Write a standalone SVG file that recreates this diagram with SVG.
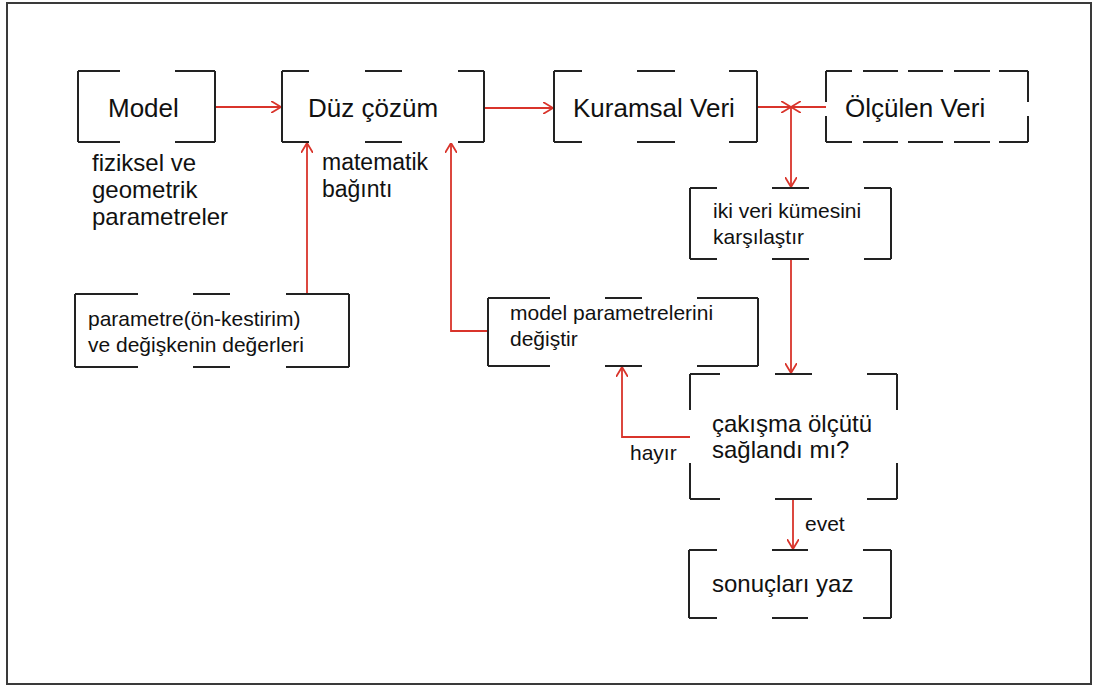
<svg xmlns="http://www.w3.org/2000/svg" width="1093" height="686" viewBox="0 0 1093 686">
<style>
.box{fill:none;stroke:#222;stroke-width:2}
.con{fill:none;stroke:#d9342b;stroke-width:1.8}
text{font-family:"Liberation Sans",Arial,sans-serif;fill:#111}
.t26{font-size:26px}
.t23{font-size:23px}
.t24{font-size:24px}
.t21{font-size:21px}
</style>
<defs>
<marker id="ah" viewBox="0 0 10 12" refX="10" refY="6" markerWidth="10" markerHeight="12" markerUnits="userSpaceOnUse" orient="auto">
<path d="M0,0 L10,6 L0,12" fill="none" stroke="#d9342b" stroke-width="1.8"/>
</marker>
</defs>
<rect x="7" y="3" width="1084" height="681" fill="#fff" stroke="#3a3a3a" stroke-width="2"/>

<g id="connectors">
<path class="con" d="M215,107 H281" marker-end="url(#ah)"/>
<path class="con" d="M484,108 H553" marker-end="url(#ah)"/>
<path class="con" d="M757,107 H791" marker-end="url(#ah)"/>
<path class="con" d="M826,107 H791" marker-end="url(#ah)"/>
<path class="con" d="M791,107 V187" marker-end="url(#ah)"/>
<path class="con" d="M791,259 V373" marker-end="url(#ah)"/>
<path class="con" d="M793,499 V549" marker-end="url(#ah)"/>
<path class="con" d="M690,437 H622 V367" marker-end="url(#ah)"/>
<path class="con" d="M488,331 H451 V143" marker-end="url(#ah)"/>
<path class="con" d="M307,294 V143" marker-end="url(#ah)"/>
<text class="t21" x="630" y="460">hayır</text>
<text class="t21" x="805" y="531">evet</text>
</g>

<g id="model">
<path class="box" d="M78,71 V142 M215,71 V142 M78,71 H120 M175,71 H215 M78,142 H120 M175,142 H215"/>
<text class="t26" x="108" y="117">Model</text>
<text class="t24" x="92" y="171">fiziksel ve</text>
<text class="t24" x="92" y="198">geometrik</text>
<text class="t24" x="92" y="225">parametreler</text>
</g>

<g id="duz-cozum">
<path class="box" d="M282,71 V142 M484,71 V142 M282,71 H309 M365,71 H402 M458,71 H484 M282,142 H309 M365,142 H402 M458,142 H484"/>
<text class="t26" x="308" y="117">Düz çözüm</text>
<text class="t23" x="322" y="170">matematik</text>
<text class="t23" x="322" y="197">bağıntı</text>
</g>

<g id="kuramsal-veri">
<path class="box" d="M554,71 V142 M757,71 V142 M554,71 H582 M637,71 H675 M729,71 H757 M554,142 H582 M637,142 H675 M729,142 H757"/>
<text class="t26" x="573" y="117">Kuramsal Veri</text>
</g>

<g id="olculen-veri">
<path class="box" d="M826,71 V102 M826,116 V142 M1028,71 V102 M1028,116 V142 M826,71 H852 M863,71 H898 M908,71 H943 M954,71 H990 M999,71 H1028 M826,142 H852 M863,142 H898 M908,142 H943 M954,142 H990 M999,142 H1028"/>
<text class="t26" x="845" y="117">Ölçülen Veri</text>
</g>

<g id="iki-veri">
<path class="box" d="M690,188 V259 M891,188 V259 M690,188 H717 M772,188 H809 M864,188 H891 M690,259 H717 M772,259 H809 M864,259 H891"/>
<text class="t21" x="713" y="218">iki veri kümesini</text>
<text class="t21" x="713" y="244">karşılaştır</text>
</g>

<g id="parametre">
<path class="box" d="M75,294 V367 M349,294 V367 M75,294 H138 M193,294 H230 M286,294 H349 M75,367 H138 M193,367 H230 M286,367 H349"/>
<text class="t21" x="88" y="326">parametre(ön-kestirim)</text>
<text class="t21" x="88" y="352">ve değişkenin değerleri</text>
</g>

<g id="model-parametrelerini">
<path class="box" d="M488,298 V366 M758,298 V366 M488,298 H550 M605,298 H642 M697,298 H758 M488,366 H550 M605,366 H642 M697,366 H758"/>
<text class="t21" x="510" y="320">model parametrelerini</text>
<text class="t21" x="510" y="346">değiştir</text>
</g>

<g id="cakisma">
<path class="box" d="M690,374 V410 M690,463 V499 M897,374 V410 M897,463 V499 M690,374 H720 M775,374 H812 M867,374 H897 M690,499 H720 M775,499 H812 M867,499 H897"/>
<text class="t24" x="712" y="432">çakışma ölçütü</text>
<text class="t24" x="712" y="458">sağlandı mı?</text>
</g>

<g id="sonuclari-yaz">
<path class="box" d="M689,550 V618 M891,550 V618 M689,550 H717 M772,550 H808 M863,550 H891 M689,618 H717 M772,618 H808 M863,618 H891"/>
<text class="t24" x="712" y="592">sonuçları yaz</text>
</g>
</svg>
